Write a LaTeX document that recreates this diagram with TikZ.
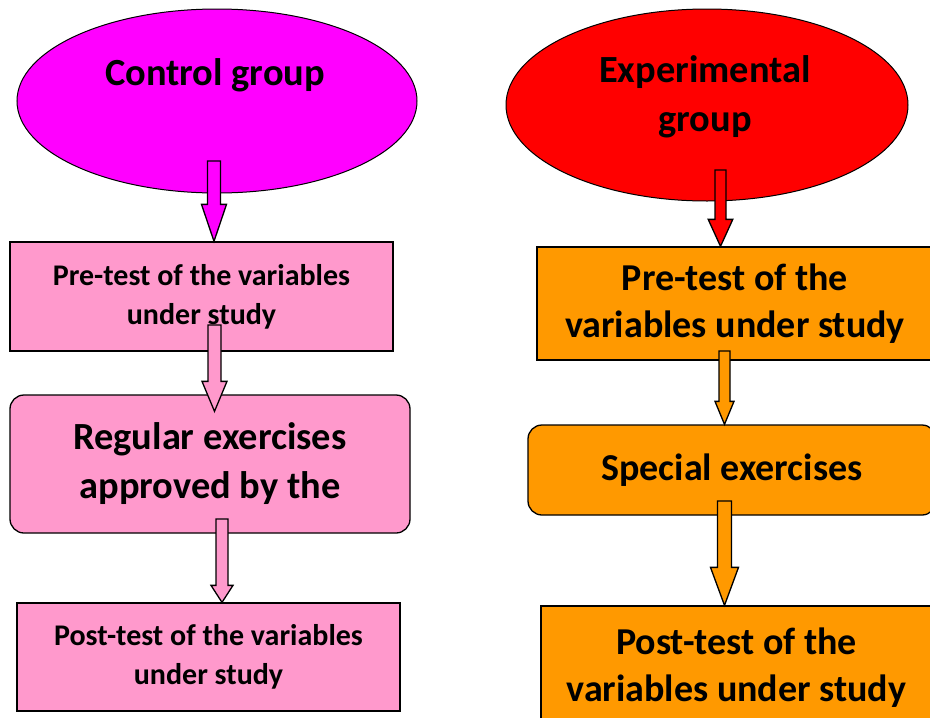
\documentclass[tikz,border=0pt]{standalone}
\usepackage{fontspec}
\setmainfont{Carlito}
\usepackage{tikz}
\usetikzlibrary{shapes.geometric,calc}

\definecolor{pinkbox}{HTML}{FF99CC}
\definecolor{orangebox}{HTML}{FF9900}
\definecolor{ctlfill}{HTML}{FF00FF}
\definecolor{expfill}{HTML}{FF0000}

\newcommand{\barrow}[6]{%
  \filldraw[fill=#1,draw=black,line width=1.3pt,line join=miter]
    let \p1=(#2), \p2=(#3) in
    (\x1-#4pt,\y1) -- (\x1+#4pt,\y1) -- (\x1+#4pt,\y2+#6pt) -- (\x1+#5pt,\y2+#6pt)
    -- (\x1,\y2) -- (\x1-#5pt,\y2+#6pt) -- (\x1-#4pt,\y2+#6pt) -- cycle;}

\begin{document}
\begin{tikzpicture}[x=1pt,y=-1pt]
        \tikzstyle{every node}+=[inner sep=0pt]
        \tikzstyle{grp}=[ellipse, draw=black, line width=1pt]
        \tikzstyle{sqbox}=[rectangle, draw=black, line width=1.3pt, align=center]
        \tikzstyle{rndbox}=[sqbox, rounded corners=14pt]
        \tikzstyle{small}=[font=\bfseries\fontsize{30}{39}\selectfont]
        \tikzstyle{big}=[font=\bfseries\fontsize{38}{47}\selectfont]
        \tikzstyle{huge}=[font=\bfseries\fontsize{38.4}{49}\selectfont]
        \clip (0,0) rectangle (930,718);
        \fill [white] (0,0) rectangle (930,718);
        \node (ctl) at (217,101) [grp, fill=ctlfill, minimum width=400pt, minimum height=184pt] {};
        \node (ctltxt) at (215,75) [huge] {Control group};
        \node (exp) at (707,105) [grp, fill=expfill, minimum width=402pt, minimum height=192pt] {};
        \node (exptxt) at (705,97) [huge, align=center] {Experimental\\group};
        \node (pre1) at (201.5,296.5) [sqbox, small, fill=pinkbox, minimum width=383pt, minimum height=109pt] {Pre-test of the variables\\under study};
        \node (reg) at (210,464) [rndbox, huge, fill=pinkbox, minimum width=400pt, minimum height=138pt] {Regular exercises\\approved by the};
        \node (post1) at (208.5,657) [sqbox, small, fill=pinkbox, minimum width=383pt, minimum height=108pt] {Post-test of the variables\\under study};
        \node (pre2) at (735,303.5) [sqbox, big, fill=orangebox, minimum width=396pt, minimum height=113pt] {Pre-test of the\\variables under study};
        \node (spec) at (732,470) [rndbox, big, fill=orangebox, minimum width=408pt, minimum height=90pt] {Special exercises};
        \node (post2) at (736.5,668) [sqbox, big, fill=orangebox, minimum width=391pt, minimum height=124pt] {Post-test of the\\variables under study};
        \coordinate (a1) at (214,161);
        \coordinate (a2) at (214.5,325);
        \coordinate (a3) at (222,519);
        \coordinate (b1) at (720.5,170);
        \coordinate (b2) at (724.5,351);
        \coordinate (b3) at (724.5,501);
        \barrow{ctlfill}{a1}{pre1.north -| a1}{6.5}{12.5}{37}
        \barrow{pinkbox}{a2}{$(reg.north -| a2)+(0,17)$}{6.5}{12.5}{30}
        \barrow{pinkbox}{a3}{post1.north -| a3}{6}{11}{17}
        \barrow{expfill}{b1}{pre2.north -| b1}{5.5}{12.3}{27}
        \barrow{orangebox}{b2}{spec.north -| b2}{5.5}{9.5}{23}
        \barrow{orangebox}{b3}{post2.north -| b3}{7}{14}{38}
\end{tikzpicture}
\end{document}
